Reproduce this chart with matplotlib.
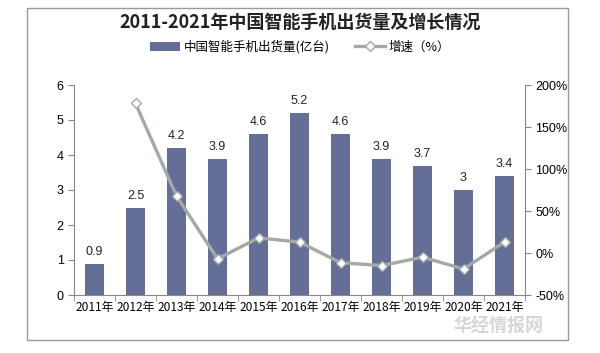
import matplotlib
matplotlib.use("Agg")
import matplotlib.pyplot as plt
from matplotlib.patches import Rectangle
from matplotlib.ticker import FuncFormatter, FixedLocator

plt.rcParams["font.family"] = ["Noto Sans CJK SC", "DejaVu Sans"]

years = ["2011年", "2012年", "2013年", "2014年", "2015年", "2016年",
         "2017年", "2018年", "2019年", "2020年", "2021年"]
shipments = [0.9, 2.5, 4.2, 3.9, 4.6, 5.2, 4.6, 3.9, 3.7, 3.0, 3.4]
growth = [None, 178, 68, -7, 18, 13, -11.5, -15, -5, -19, 13]

BAR = "#646e97"
LINE = "#a3aaa6"
LATIN = ["Liberation Sans", "DejaVu Sans"]

fig = plt.figure(figsize=(6.0, 3.53), dpi=100)
fig.patches.append(Rectangle((27 / 600, 1 - 340 / 353), 541 / 600, 332 / 353,
                             transform=fig.transFigure, fill=False,
                             edgecolor="#9a9a9a", linewidth=1.0))

ax = fig.add_axes([74 / 600, 1 - 295 / 353, 451 / 600, 210 / 353])
x = list(range(len(years)))
bars = ax.bar(x, shipments, width=0.44, color=BAR, zorder=2)
for xi, v in zip(x, shipments):
    ax.text(xi, v + 0.17, f"{v:g}", ha="center", va="bottom", fontsize=9,
            family=LATIN, color="#222222")

ax.set_xlim(-0.5, len(years) - 0.5)
ax.set_ylim(0, 6)
ax.set_yticks(range(0, 7))
ax.set_xticks(x)
ax.set_xticklabels(years, fontsize=8.6)
ax.xaxis.set_minor_locator(FixedLocator([i - 0.5 for i in range(len(years) + 1)]))
ax.tick_params(axis="x", which="major", length=0, pad=4)
ax.tick_params(axis="x", which="minor", length=4, color="#888888", direction="out")
ax.tick_params(axis="y", labelsize=9, length=4, color="#888888", direction="out")
for side in ["top", "right"]:
    ax.spines[side].set_visible(False)
for side in ["left", "bottom"]:
    ax.spines[side].set_color("#888888")

ax2 = ax.twinx()
gx = [xi for xi, g in zip(x, growth) if g is not None]
gy = [g for g in growth if g is not None]
ln, = ax2.plot(gx, gy, color=LINE, linewidth=2.4, marker="D", markersize=5.5,
               markerfacecolor="white", markeredgecolor=LINE, markeredgewidth=1.0,
               zorder=3)
ax2.set_ylim(-50, 200)
ax2.set_yticks(range(-50, 201, 50))
ax2.yaxis.set_major_formatter(FuncFormatter(lambda v, p: f"{v:.0f}%"))
ax2.tick_params(axis="y", labelsize=9, length=4, color="#888888", direction="out")
for side in ["top", "left", "bottom"]:
    ax2.spines[side].set_visible(False)
ax2.spines["right"].set_color("#888888")

for lab in ax.get_yticklabels() + ax2.get_yticklabels():
    lab.set_family(LATIN)

fig.text(0.5, 1 - 22 / 353, "2011-2021年中国智能手机出货量及增长情况", ha="center",
         va="center", fontsize=13, fontweight="bold", color="#222222")
fig.legend([bars, ln], ["中国智能手机出货量(亿台)", "增速（%）"], loc="center",
           bbox_to_anchor=(0.5, 1 - 47 / 353), ncol=2, frameon=False, fontsize=9,
           handlelength=2.4, columnspacing=2.0, handletextpad=0.3)

fig.text(0.905, 1 - 326 / 353, "华经情报网", ha="right", va="center", fontsize=13,
         fontweight="bold", color="#cccccc", alpha=0.8, zorder=5)

fig.savefig("out.png", dpi=100)
